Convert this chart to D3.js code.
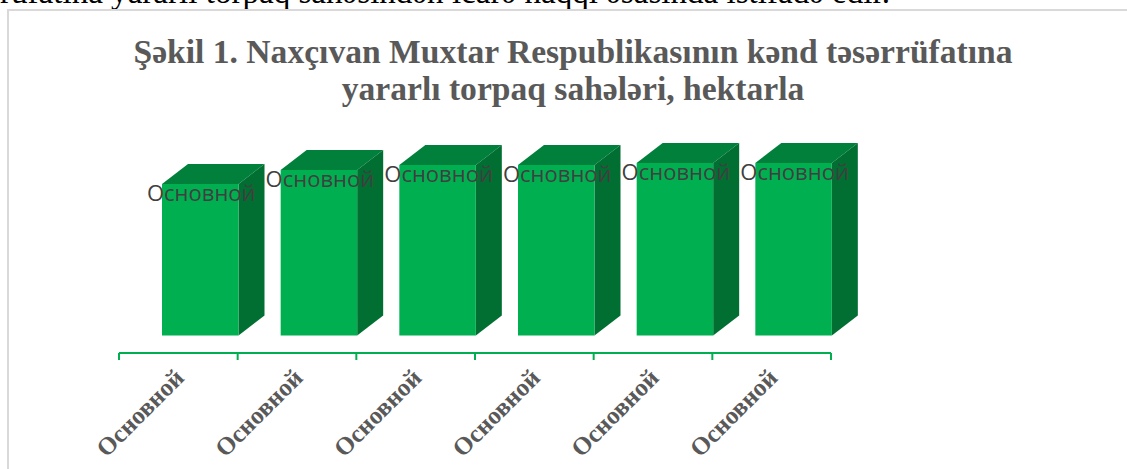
<!DOCTYPE html>
<html>
<head>
<meta charset="utf-8">
<script src="https://d3js.org/d3.v7.min.js"></script>
<style>
  html, body { margin: 0; padding: 0; background: #fff; overflow: hidden; }
</style>
</head>
<body>
<svg id="chart" width="1127" height="469"></svg>
<script>
// values are read off the bar heights, the picture prints no real numbers
const categories = ["a", "b", "c", "d", "e", "f"]
const tickLabels = ["Основной", "Основной", "Основной", "Основной", "Основной", "Основной"]
const dataLabels = ["Основной", "Основной", "Основной", "Основной", "Основной", "Основной"]
const values = [151.5, 165.5, 170.5, 170.5, 172.5, 172.5]
const titleLines = ["Şəkil 1. Naxçıvan Muxtar Respublikasının kənd təsərrüfatına", "yararlı torpaq sahələri, hektarla"]
const bodyLine = "rüfatına yararlı torpaq sahəsindən icarə haqqı əsasında istifadə edir."

const svg = d3.select("#chart")
const serif = "'Liberation Serif', serif"
const sans = "'Open Sans', 'Noto Sans', sans-serif"

var x = d3.scaleBand().domain(categories).range([119, 831])
var y = d3.scaleLinear().domain([0, 172.5]).range([335.5, 163])

var barOffset = 43, barWidth = 76.5, depthX = 26, depthY = 20

// document text cut off above the chart
svg.append("text")
  .attr("x", 0).attr("y", 3)
  .attr("font-family", serif).attr("font-size", 33.1)
  .attr("fill", "#000")
  .text(bodyLine)

// chart frame
svg.append("rect")
  .attr("x", 8).attr("y", 10)
  .attr("width", 1130).attr("height", 470)
  .attr("fill", "#fff").attr("stroke", "#d9d9d9").attr("stroke-width", 2)

svg.append("g").selectAll("text")
  .data(titleLines)
  .join("text")
  .attr("x", 573)
  .attr("y", function(d, i) { return 63 + i * 37 })
  .attr("text-anchor", "middle")
  .attr("font-family", serif).attr("font-size", 33.6).attr("font-weight", "bold")
  .attr("fill", "#595959")
  .text(function(d) { return d })

// 3d bars, one group for each category
var bars = svg.append("g").selectAll("g")
  .data(values)
  .join("g")
  .attr("transform", function(d, i) { return "translate(" + (x(categories[i]) + barOffset) + ",0)" })

bars.append("path")
  .attr("fill", "#00803a")
  .attr("d", function(d) {
    var t = y(d)
    return "M0," + t + "l" + depthX + "," + (-depthY) + "h" + barWidth + "l" + (-depthX) + "," + depthY + "z"
  })

bars.append("path")
  .attr("fill", "#006f31")
  .attr("d", function(d) {
    var t = y(d)
    return "M" + barWidth + "," + t + "l" + depthX + "," + (-depthY) + "V" + (y(0) - depthY) + "l" + (-depthX) + "," + depthY + "z"
  })

bars.append("rect")
  .attr("fill", "#00b050")
  .attr("x", 0)
  .attr("y", function(d) { return y(d) })
  .attr("width", barWidth)
  .attr("height", function(d) { return y(0) - y(d) })

// data labels sit over the top of each bar
bars.append("text")
  .attr("x", barWidth / 2 + 1)
  .attr("y", function(d) { return y(d) + 16.5 })
  .attr("text-anchor", "middle")
  .attr("font-family", sans).attr("font-size", 22)
  .attr("fill", "#404040")
  .text(function(d, i) { return dataLabels[i] })

// axis: ticks on the band edges, so the d3 ticks are drawn by hand from the scale
var axis = svg.append("g").attr("stroke", "#00b050").attr("stroke-width", 2)
axis.append("line")
  .attr("x1", x.range()[0]).attr("x2", x.range()[1])
  .attr("y1", 353).attr("y2", 353)
axis.selectAll(".tick")
  .data(categories.concat(["end"]))
  .join("line")
  .attr("class", "tick")
  .attr("x1", function(d, i) { return x.range()[0] + i * x.step() })
  .attr("x2", function(d, i) { return x.range()[0] + i * x.step() })
  .attr("y1", 353).attr("y2", 360)

svg.append("g").selectAll("text")
  .data(tickLabels)
  .join("text")
  .attr("transform", function(d, i) {
    return "translate(" + (x(categories[i]) + x.bandwidth() / 2 + 1) + ",373) rotate(-45)"
  })
  .attr("text-anchor", "end")
  .attr("dy", "0.35em")
  .attr("font-family", serif).attr("font-size", 25).attr("font-weight", "bold")
  .attr("fill", "#595959")
  .text(function(d) { return d })
</script>
</body>
</html>
